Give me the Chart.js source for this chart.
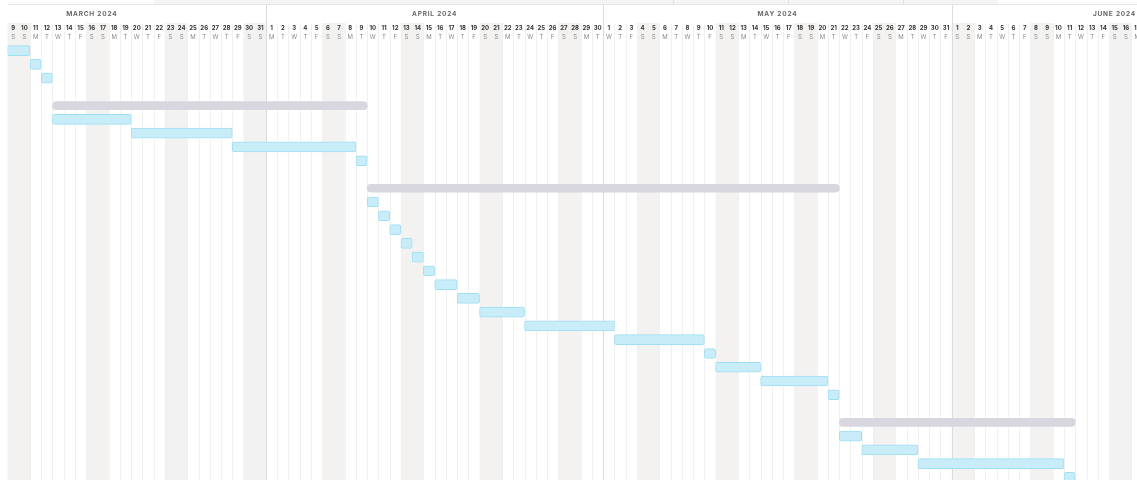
<!DOCTYPE html>
<html>
<head>
<meta charset="utf-8">
<script src="https://cdn.jsdelivr.net/npm/chart.js@4"></script>
<style>
  body { margin: 0; background: #fff; }
</style>
</head>
<body>
<canvas id="gantt" width="1137" height="480"></canvas>
<script>
// first visible day of the timeline
const firstDay = '2024-03-09';
const dayCount = 100.49;

// task bars (row index, first day, last day inclusive)
const taskRow   = [0, 1, 2, 5, 6, 7, 8, 11, 12, 13, 14, 15, 16, 17, 18, 19, 20, 21, 22, 23, 24, 25, 28, 29, 30, 31];
const taskStart = ['2024-03-09','2024-03-11','2024-03-12','2024-03-13','2024-03-20','2024-03-29','2024-04-09',
  '2024-04-10','2024-04-11','2024-04-12','2024-04-13','2024-04-14','2024-04-15','2024-04-16','2024-04-18',
  '2024-04-20','2024-04-24','2024-05-02','2024-05-10','2024-05-11','2024-05-15','2024-05-21',
  '2024-05-22','2024-05-24','2024-05-29','2024-06-11'];
const taskEnd   = ['2024-03-10','2024-03-11','2024-03-12','2024-03-19','2024-03-28','2024-04-08','2024-04-09',
  '2024-04-10','2024-04-11','2024-04-12','2024-04-13','2024-04-14','2024-04-15','2024-04-17','2024-04-19',
  '2024-04-23','2024-05-01','2024-05-09','2024-05-10','2024-05-14','2024-05-20','2024-05-21',
  '2024-05-23','2024-05-28','2024-06-10','2024-06-11'];

// summary (group) bars
const groupRow   = [4, 10, 27];
const groupStart = ['2024-03-13', '2024-04-10', '2024-05-22'];
const groupEnd   = ['2024-04-09', '2024-05-21', '2024-06-11'];

const monthNames = ['JANUARY','FEBRUARY','MARCH','APRIL','MAY','JUNE','JULY','AUGUST','SEPTEMBER','OCTOBER','NOVEMBER','DECEMBER'];
const weekLetters = ['S','M','T','W','T','F','S'];

const base = Date.UTC(2024, 2, 9);
function dayIndex(s) {
  const p = s.split('-').map(Number);
  return (Date.UTC(p[0], p[1] - 1, p[2]) - base) / 86400000;
}

const taskData = taskRow.map((r, i) => ({ y: r, x: [dayIndex(taskStart[i]), dayIndex(taskEnd[i]) + 1] }));
const groupData = groupRow.map((r, i) => ({ y: r, x: [dayIndex(groupStart[i]), dayIndex(groupEnd[i]) + 1] }));

const ganttGrid = {
  id: 'ganttGrid',
  beforeDatasetsDraw(chart) {
    const ctx = chart.ctx;
    const x = chart.scales.x;
    const area = chart.chartArea;
    const H = chart.height;
    ctx.save();

    // strip of the panel above
    ctx.fillStyle = '#f4f4f4';
    ctx.fillRect(154, 0, 844, 4);
    ctx.strokeStyle = '#dedede';
    ctx.lineWidth = 1;
    [673.5, 788.5, 903.5].forEach(px => {
      ctx.beginPath(); ctx.moveTo(px, 0); ctx.lineTo(px, 4); ctx.stroke();
    });
    ctx.strokeStyle = '#e6e6e6';
    ctx.beginPath(); ctx.moveTo(area.left, 4.5); ctx.lineTo(area.right, 4.5); ctx.stroke();

    // weekend shading + day lines
    for (let d = 0; d < Math.ceil(dayCount); d++) {
      const dt = new Date(base + d * 86400000);
      const wd = dt.getUTCDay();
      const x0 = x.getPixelForValue(d);
      const x1 = x.getPixelForValue(d + 1);
      if (wd === 0 || wd === 6) {
        ctx.fillStyle = '#f3f2f0';
        ctx.fillRect(x0, 23, x1 - x0, H - 23);
      }
    }
    ctx.strokeStyle = '#f0f0f0';
    for (let d = 1; d < Math.ceil(dayCount); d++) {
      const px = Math.round(x.getPixelForValue(d)) + 0.5;
      ctx.beginPath(); ctx.moveTo(px, 23); ctx.lineTo(px, H); ctx.stroke();
    }

    // header text
    ctx.textAlign = 'center';
    ctx.textBaseline = 'middle';
    for (let d = 0; d < Math.ceil(dayCount); d++) {
      const dt = new Date(base + d * 86400000);
      const cx = x.getPixelForValue(d + 0.5);
      ctx.font = 'bold 6px Inter';
      ctx.fillStyle = '#333333';
      ctx.fillText(String(dt.getUTCDate()), cx, 28.5);
      ctx.font = '6px Inter';
      ctx.fillStyle = '#8a8a8a';
      ctx.fillText(weekLetters[dt.getUTCDay()], cx, 37.5);
    }

    // month dividers and labels (labels stay inside the visible area)
    for (let m = 2; m <= 6; m++) {
      const start = (Date.UTC(2024, m, 1) - base) / 86400000;
      const end = (Date.UTC(2024, m + 1, 1) - base) / 86400000;
      if (start > 0 && start < dayCount) {
        const px = Math.round(x.getPixelForValue(start)) + 0.5;
        ctx.strokeStyle = '#dcdcdc';
        ctx.beginPath(); ctx.moveTo(px, 5); ctx.lineTo(px, H); ctx.stroke();
      }
      if (start < dayCount) {
        ctx.font = 'bold 6.5px Inter';
        ctx.letterSpacing = '0.8px';
        ctx.fillStyle = '#666666';
        const label = monthNames[m] + ' 2024';
        const w = ctx.measureText(label).width;
        let cx = x.getPixelForValue((start + end) / 2);
        cx = Math.min(cx, area.right - w / 2 - 1);
        ctx.fillText(label, cx, 14);
        ctx.letterSpacing = '0px';
      }
    }
    ctx.restore();
  }
};

new Chart(document.getElementById('gantt'), {
  type: 'bar',
  data: {
    datasets: [
      {
        label: 'Groups',
        data: groupData,
        backgroundColor: '#d8d7df',
        borderWidth: 0,
        borderRadius: 4,
        borderSkipped: false,
        barThickness: 8,
        grouped: false
      },
      {
        label: 'Tasks',
        data: taskData,
        backgroundColor: '#c8ecf8',
        borderColor: '#9fdff4',
        borderWidth: 1,
        borderRadius: 2,
        borderSkipped: false,
        barThickness: 10,
        grouped: false
      }
    ]
  },
  plugins: [ganttGrid],
  options: {
    indexAxis: 'y',
    responsive: false,
    devicePixelRatio: 1,
    animation: false,
    layout: { padding: { left: 7.5, top: 43, right: 0, bottom: 0 } },
    scales: {
      x: { type: 'linear', min: 0, max: dayCount, offset: false, display: false },
      y: { type: 'linear', min: -0.55, max: 31.19, reverse: true, offset: false, display: false }
    },
    plugins: { legend: { display: false }, tooltip: { enabled: false } }
  }
});
</script>
</body>
</html>
